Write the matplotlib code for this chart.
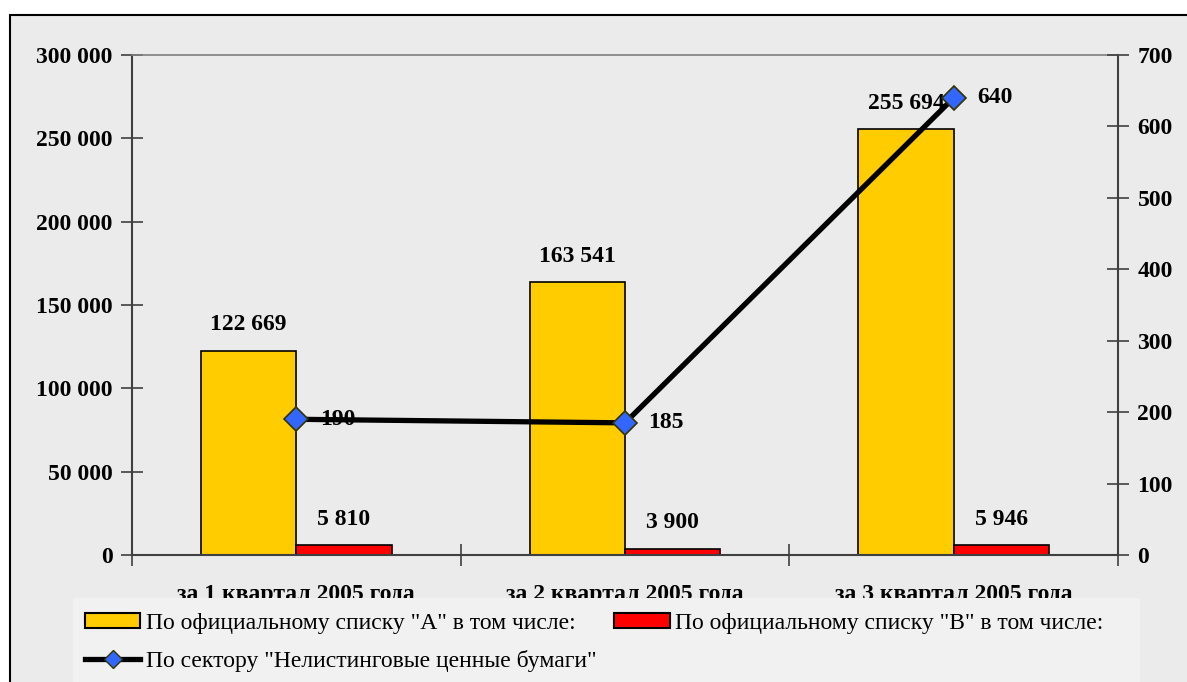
import matplotlib.pyplot as plt
from matplotlib.patches import Rectangle, Patch
from matplotlib.lines import Line2D
from matplotlib.ticker import FuncFormatter, FixedLocator

# données
kvartaly = ["за 1 квартал 2005 года", "за 2 квартал 2005 года", "за 3 квартал 2005 года"]
spisok_a = [122669, 163541, 255694]
spisok_b = [5810, 3900, 5946]
nelisting = [190, 185, 640]

nom_a = 'По официальному списку "А" в том числе:'
nom_b = 'По официальному списку "В" в том числе:'
nom_n = 'По сектору "Нелистинговые ценные бумаги"'

plt.rcParams['font.family'] = ['Liberation Serif', 'DejaVu Serif']

fond = '#ebebeb'
jaune = '#FFCC00'
rouge = '#FF0000'
bleu = '#3366FF'

def fmt(v, pos=None):
    return f"{int(v):,}".replace(",", " ")

fig = plt.figure(figsize=(11.87, 6.82), dpi=100, facecolor='white')
# cadre extérieur
fig.patches.append(Rectangle((10 / 1187, -0.01), 1.0, (682 - 15) / 682 + 0.01,
                             transform=fig.transFigure, facecolor=fond,
                             edgecolor='black', linewidth=1.5, zorder=-1))

ax = fig.add_axes([132 / 1187, 127 / 682, (1118 - 132) / 1187, 500 / 682])
ax.set_facecolor('none')
x = list(range(len(kvartaly)))
w = 0.29
xa = [i - w / 2 for i in x]
xb = [i + w / 2 for i in x]
bars_a = ax.bar(xa, spisok_a, w, color=jaune, edgecolor='black', linewidth=1.2, zorder=2)
bars_b = ax.bar(xb, spisok_b, w, color=rouge, edgecolor='black', linewidth=1.2, zorder=2)
ax.bar_label(bars_a, labels=[fmt(v) for v in spisok_a], padding=11,
             fontsize=17, fontweight='bold')
ax.bar_label(bars_b, labels=[fmt(v) for v in spisok_b], padding=11,
             fontsize=17, fontweight='bold')

ax.set_xlim(-0.5, 2.5)
ax.set_ylim(0, 300000)
ax.set_yticks(range(0, 300001, 50000))
ax.yaxis.set_major_formatter(FuncFormatter(fmt))
ax.xaxis.set_major_locator(FixedLocator([-0.5, 0.5, 1.5, 2.5]))
ax.xaxis.set_minor_locator(FixedLocator(x))
ax.set_xticklabels([])
ax.set_xticklabels(kvartaly, minor=True)
ax.tick_params(axis='x', which='major', direction='inout', length=16, width=1.2, color='#404040')
ax.tick_params(axis='x', which='minor', length=0, pad=21, labelsize=17)
ax.tick_params(axis='y', direction='inout', length=16, width=1.2, color='#404040',
               labelsize=17, pad=6)
for lab in ax.get_xticklabels(minor=True) + ax.get_yticklabels():
    lab.set_fontweight('bold')
for s in ['left', 'bottom', 'right']:
    ax.spines[s].set_color('#404040')
    ax.spines[s].set_linewidth(1.5)
ax.spines['top'].set_color('#808080')
ax.spines['top'].set_linewidth(1.2)

ax2 = ax.twinx()
ax2.set_ylim(0, 700)
ax2.set_yticks(range(0, 701, 100))
ax2.plot(x, nelisting, color='black', linewidth=3.8, marker='D', markersize=12,
         markerfacecolor=bleu, markeredgecolor='#333300', markeredgewidth=1.2, zorder=3)
for xi, v in zip(x, nelisting):
    ax2.annotate(str(v), (xi, v), xytext=(17, 0), textcoords='offset points',
                 ha='left', va='center', fontsize=17, fontweight='bold')
ax2.tick_params(axis='y', direction='inout', length=16, width=1.2, color='#404040',
                labelsize=17, pad=6)
for lab in ax2.get_yticklabels():
    lab.set_fontweight('bold')
for s in ax2.spines.values():
    s.set_visible(False)

# zone de légende
fig.patches.append(Rectangle((73 / 1187, 0), (1140 - 73) / 1187, (682 - 598) / 682,
                             transform=fig.transFigure, facecolor='#f1f1f1',
                             edgecolor='none', zorder=1))
poignees = [
    Patch(facecolor=jaune, edgecolor='black', linewidth=1.5),
    Line2D([0], [0], color='black', linewidth=3.8, marker='D', markersize=9,
           markerfacecolor=bleu, markeredgecolor='#333300'),
    Patch(facecolor=rouge, edgecolor='black', linewidth=1.5),
]
fig.legend(poignees, [nom_a, nom_n, nom_b], ncol=2, loc='upper left',
           bbox_to_anchor=(68 / 1187, 1 - 596 / 682), frameon=False,
           prop={'size': 17}, handlelength=2.37, handleheight=0.6, handletextpad=0.25,
           labelspacing=0.7, columnspacing=0.7, borderpad=0.2)

plt.savefig('out.png', dpi=100, facecolor=fig.get_facecolor())
